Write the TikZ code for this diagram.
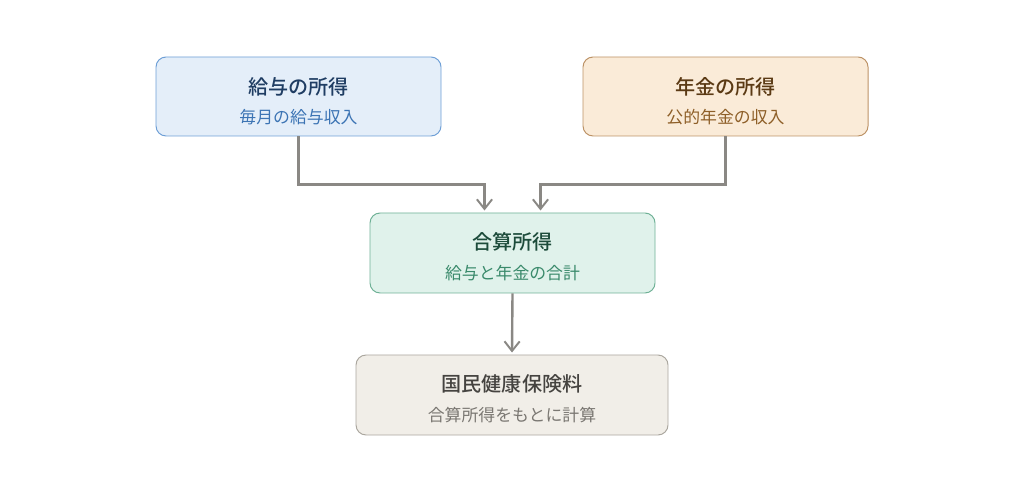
\documentclass[tikz,border=0pt]{standalone}
\usepackage{fontspec}
\setmainfont{Noto Sans CJK JP}[BoldFont={Noto Sans CJK JP Medium}]
\usetikzlibrary{arrows.meta,positioning}

\definecolor{salfill}{HTML}{E4EEF9}
\definecolor{saldraw}{HTML}{6E9FD6}
\definecolor{saltext}{HTML}{1F3D63}
\definecolor{salsub}{HTML}{3C74B4}
\definecolor{penfill}{HTML}{FAEBD8}
\definecolor{pendraw}{HTML}{BC9266}
\definecolor{pentext}{HTML}{5B3A14}
\definecolor{pensub}{HTML}{8E5F28}
\definecolor{sumfill}{HTML}{E0F2EB}
\definecolor{sumdraw}{HTML}{6FB196}
\definecolor{sumtext}{HTML}{1D4C3B}
\definecolor{sumsub}{HTML}{3A8A6B}
\definecolor{insfill}{HTML}{F1EEE8}
\definecolor{insdraw}{HTML}{ABA79F}
\definecolor{instext}{HTML}{454340}
\definecolor{inssub}{HTML}{7A7772}
\definecolor{flowgray}{HTML}{8A8884}

\tikzset{
  box/.style={draw, rounded corners=0.25cm, line width=0.7pt,
    minimum width=7.125cm, minimum height=1.975cm, inner sep=0pt},
  titletext/.style={font=\fontsize{14.3}{16}\selectfont\bfseries},
  subtext/.style={font=\fontsize{12}{14}\selectfont},
  flow/.style={draw=flowgray, line width=1.7pt,
    -{Straight Barb[length=2.4mm,width=3.8mm,line width=1.4pt]}}
}

\begin{document}
\begin{tikzpicture}
    \useasboundingbox (0,0) rectangle (25.6,-12.45);

    % Source boxes
    \node[box, fill=salfill, draw=saldraw] (sal) at (7.4625,-2.4125) {};
    \node[box, fill=penfill, draw=pendraw] (pen) at (18.1375,-2.4125) {};

    % Combined income
    \node[box, fill=sumfill, draw=sumdraw, minimum height=2cm] (sum) at (12.8125,-6.325) {};

    % Insurance premium
    \node[box, fill=insfill, draw=insdraw, minimum width=7.8cm, minimum height=2cm] (ins) at (12.8,-9.875) {};

    % Texts
    \node[titletext, text=saltext] (saltitle) at ([yshift=0.24cm]sal.center) {給与の所得};
    \node[subtext, text=salsub] (salsubt) at ([yshift=-0.51cm]sal.center) {毎月の給与収入};
    \node[titletext, text=pentext] (pentitle) at ([yshift=0.24cm]pen.center) {年金の所得};
    \node[subtext, text=pensub] (pensubt) at ([yshift=-0.51cm]pen.center) {公的年金の収入};
    \node[titletext, text=sumtext] (sumtitle) at ([yshift=0.27cm]sum.center) {合算所得};
    \node[subtext, text=sumsub] (sumsubt) at ([yshift=-0.5cm]sum.center) {給与と年金の合計};
    \node[titletext, text=instext] (institle) at ([yshift=0.27cm]ins.center) {国民健康保険料};
    \node[subtext, text=inssub] (inssubt) at ([yshift=-0.5cm]ins.center) {合算所得をもとに計算};

    % Connectors
    \draw[flow] (sal.south) -- ++(0,-1.2) -| ([xshift=-0.7cm,yshift=0.05cm]sum.north);
    \draw[flow] (pen.south) -- ++(0,-1.2) -| ([xshift=0.7cm,yshift=0.05cm]sum.north);
    \draw[flow] (sum.south) -- ([yshift=0.05cm]ins.north);
\end{tikzpicture}
\end{document}
